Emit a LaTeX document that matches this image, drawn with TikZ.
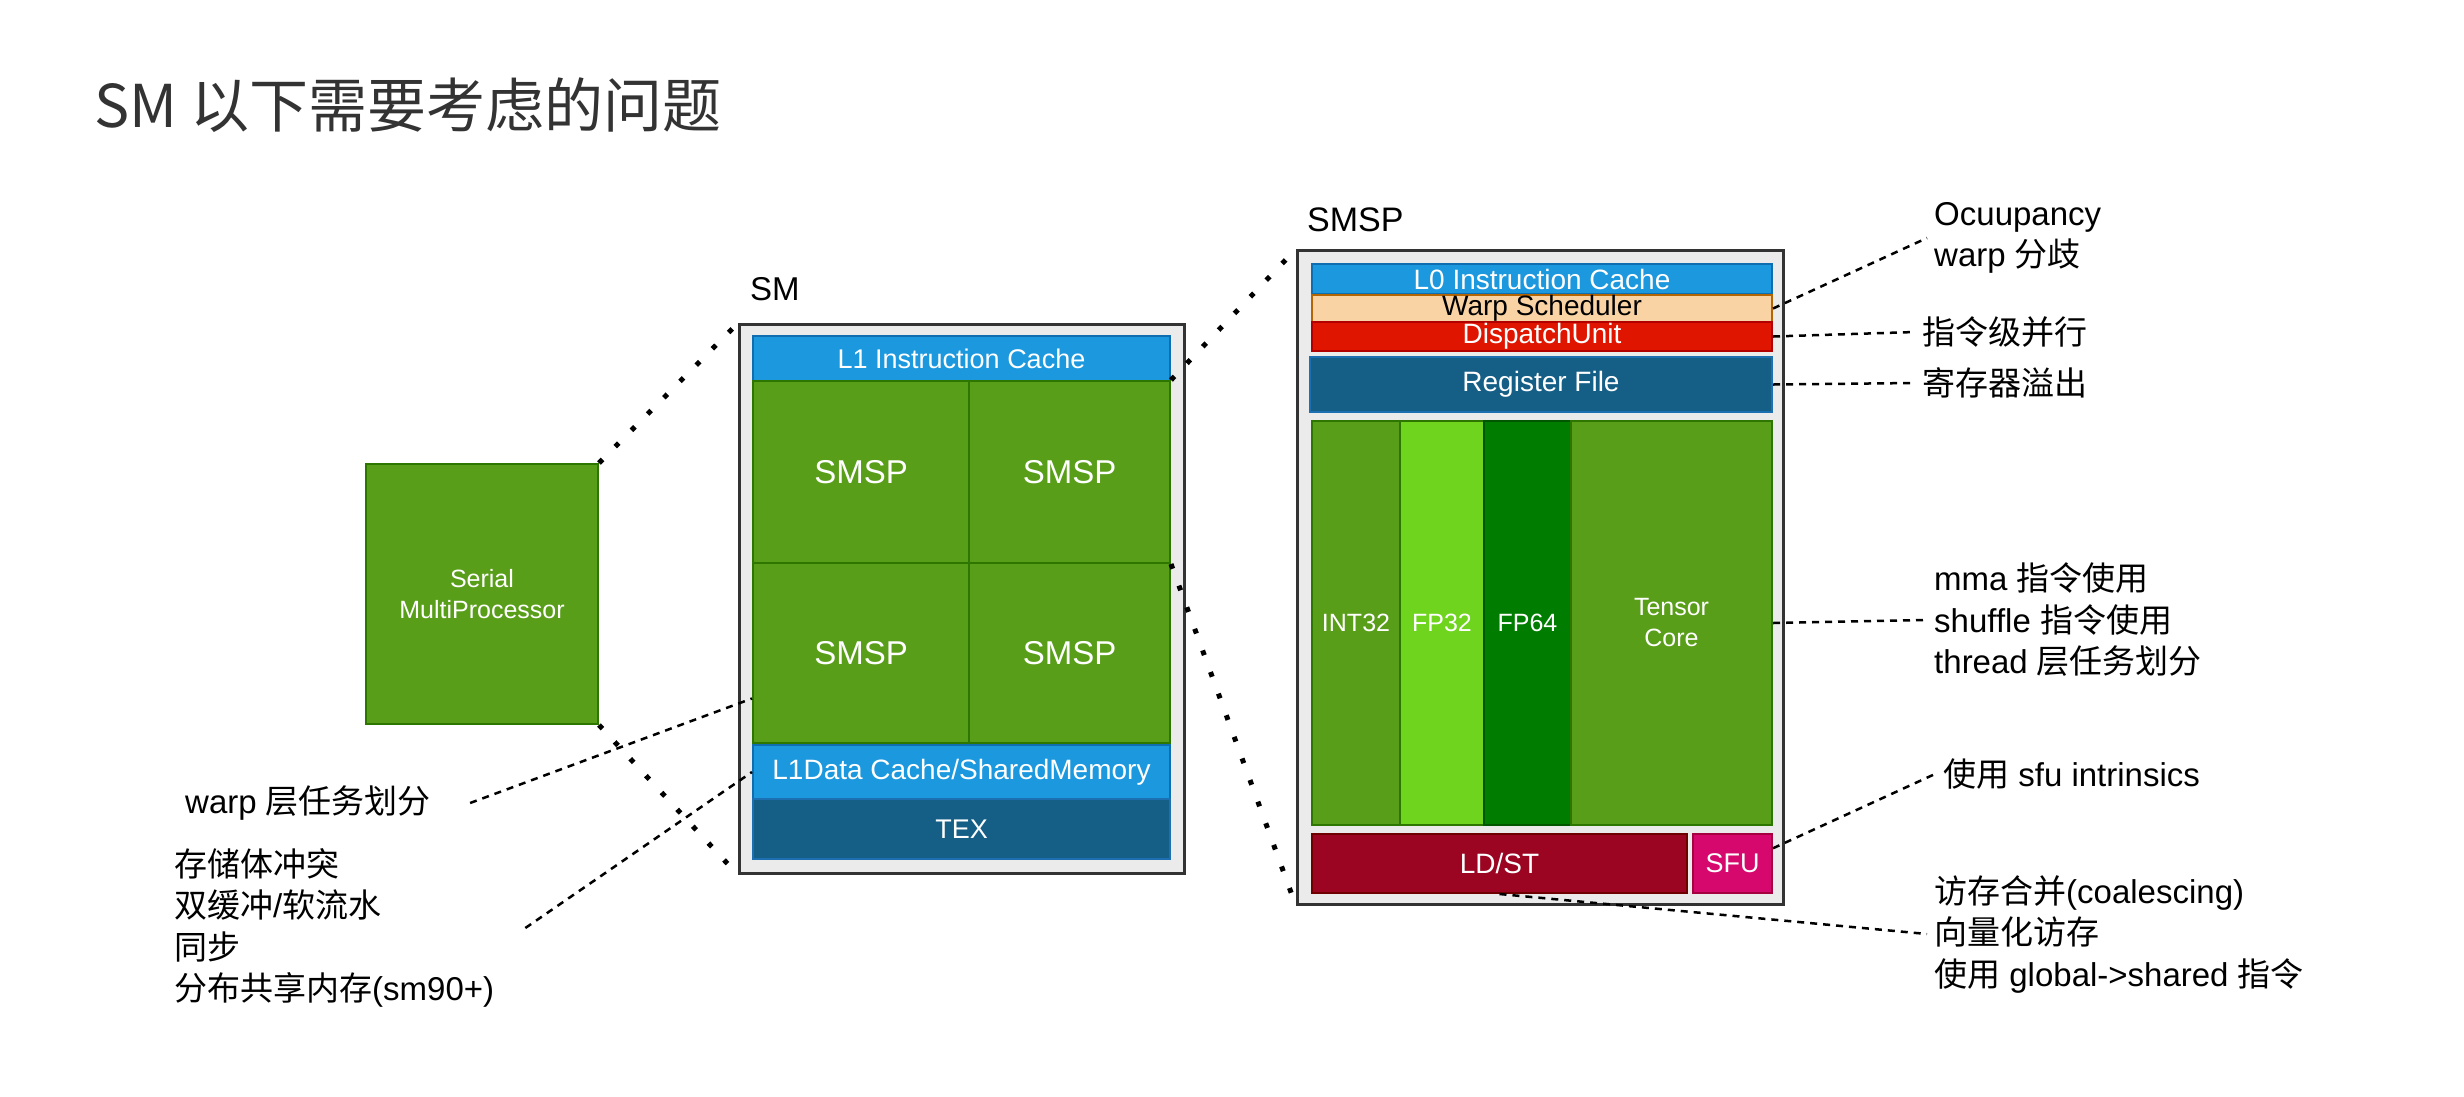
\documentclass[tikz,border=0pt]{standalone}
\usepackage{fontspec}
\setmainfont{Liberation Sans}
\newfontfamily\cjk{Noto Sans CJK SC}
\usetikzlibrary{calc}
\definecolor{smgray}{HTML}{EBEBEB}
\definecolor{framegray}{HTML}{333333}
\definecolor{titlegray}{HTML}{333333}
\definecolor{nvgreen}{HTML}{599E19}
\definecolor{nvgreenline}{HTML}{2D7600}
\definecolor{litegreen}{HTML}{6FD41D}
\definecolor{darkgreen}{HTML}{007D00}
\definecolor{darkgreenline}{HTML}{005700}
\definecolor{cacheblue}{HTML}{1B98DE}
\definecolor{cachebline}{HTML}{0E6EAF}
\definecolor{regblue}{HTML}{155E86}
\definecolor{regbline}{HTML}{1C6FB0}
\definecolor{peach}{HTML}{F9D3A3}
\definecolor{peachline}{HTML}{B46504}
\definecolor{dispred}{HTML}{E01500}
\definecolor{dispredline}{HTML}{B20000}
\definecolor{ldstred}{HTML}{9B0522}
\definecolor{ldstline}{HTML}{6F0000}
\definecolor{sfupink}{HTML}{D6086D}
\definecolor{sfuline}{HTML}{A50040}
\begin{document}
\begin{tikzpicture}[x=1pt,y=-1pt,
    unit/.style={draw, line width=2pt, inner sep=0pt, anchor=north west, text=white, align=center, font=\fontsize{28}{31}\selectfont},
    blueunit/.style={unit, fill=cacheblue, draw=cachebline},
    regunit/.style={unit, fill=regblue, draw=regbline},
    greenunit/.style={unit, fill=nvgreen, draw=nvgreenline},
    frame/.style={draw=framegray, fill=smgray, line width=3pt, inner sep=0pt, anchor=north west},
    note/.style={inner sep=0pt, anchor=west, align=left, font=\fontsize{33}{41.5}\selectfont},
    noteline/.style={line width=2.5pt, dash pattern=on 7pt off 6pt},
    zoomline/.style={line width=5pt, dash pattern=on 5pt off 18pt}]
  \fill[white] (0,0) rectangle (2464,1096);
  \useasboundingbox (0,0) rectangle (2464,1096);
  \node[anchor=west, inner sep=0pt, text=titlegray, font=\cjk\fontsize{59}{70}\selectfont] (title) at (94,105) {SM 以下需要考虑的问题};

  \node[greenunit, minimum width=232, minimum height=260, font=\fontsize{25}{31}\selectfont] (smp) at (365,463) {Serial\\MultiProcessor};

  \node[anchor=base west, inner sep=0pt, font=\fontsize{33}{40}\selectfont] (smlabel) at (750,300) {SM};
  \node[frame, minimum width=445, minimum height=549] (sm) at (738,323) {};
  \node[blueunit, minimum width=417, minimum height=45, font=\fontsize{27}{31}\selectfont] (l1i) at (752,335) {L1 Instruction Cache};
  \node[greenunit, minimum width=216, minimum height=182, font=\fontsize{33}{40}\selectfont] (tl) at (752,380) {SMSP};
  \node[greenunit, minimum width=201, minimum height=182, font=\fontsize{33}{40}\selectfont] (tr) at (968,380) {SMSP};
  \node[greenunit, minimum width=216, minimum height=180, font=\fontsize{33}{40}\selectfont] (bl) at (752,562) {SMSP};
  \node[greenunit, minimum width=201, minimum height=180, font=\fontsize{33}{40}\selectfont] (br) at (968,562) {SMSP};
  \node[blueunit, minimum width=417, minimum height=54] (l1d) at (752,744) {L1Data Cache/SharedMemory};
  \node[regunit, minimum width=417, minimum height=60, font=\fontsize{27}{31}\selectfont] (tex) at (752,798) {TEX};

  \node[anchor=base west, inner sep=0pt, font=\fontsize{34}{40}\selectfont] (smsplabel) at (1307,231) {SMSP};
  \node[frame, minimum width=486, minimum height=654] (smsp) at (1296,249) {};
  \node[blueunit, minimum width=460, minimum height=30] (l0) at (1311,263) {L0 Instruction Cache};
  \node[unit, fill=peach, draw=peachline, text=black, minimum width=460, minimum height=27] (ws) at (1311,294) {Warp Scheduler};
  \node[unit, fill=dispred, draw=dispredline, minimum width=460, minimum height=29] (du) at (1311,321) {DispatchUnit};
  \node[regunit, minimum width=462, minimum height=55] (rf) at (1309,356) {Register File};
  \node[greenunit, minimum width=88, minimum height=404, font=\fontsize{25}{31}\selectfont] (int32) at (1311,420) {INT32};
  \node[unit, fill=litegreen, draw=nvgreenline, minimum width=84, minimum height=404, font=\fontsize{25}{31}\selectfont] (fp32) at (1399,420) {FP32};
  \node[unit, fill=darkgreen, draw=darkgreenline, minimum width=87, minimum height=404, font=\fontsize{25}{31}\selectfont] (fp64) at (1483,420) {FP64};
  \node[greenunit, minimum width=201, minimum height=404, font=\fontsize{25}{31}\selectfont] (tc) at (1570,420) {Tensor\\Core};
  \node[unit, fill=ldstred, draw=ldstline, minimum width=375, minimum height=59] (ldst) at (1311,833) {LD/ST};
  \node[unit, fill=sfupink, draw=sfuline, minimum width=79, minimum height=59, font=\fontsize{27}{31}\selectfont] (sfu) at (1692,833) {SFU};

  \node[note] (occ) at (1934,238) {Ocuupancy\\warp {\cjk 分歧}};
  \node[note] (ilp) at (1922,332) {\cjk 指令级并行};
  \node[note] (spill) at (1922,383) {\cjk 寄存器溢出};
  \node[note] (mma) at (1934,620) {mma {\cjk 指令使用}\\shuffle {\cjk 指令使用}\\thread {\cjk 层任务划分}};
  \node[note] (sfunote) at (1943,774) {{\cjk 使用} sfu intrinsics};
  \node[note] (gmem) at (1934,934) {{\cjk 访存合并}(coalescing)\\{\cjk 向量化访存}\\{\cjk 使用} global->shared {\cjk 指令}};
  \node[note] (warpnote) at (185,803) {warp {\cjk 层任务划分}};
  \node[note] (smem) at (174,928) {{\cjk 存储体冲突}\\{\cjk 双缓冲}/{\cjk 软流水}\\{\cjk 同步}\\{\cjk 分布共享内存}(sm90+)};

  \draw[zoomline] (smp.north east) -- (sm.north west);
  \draw[zoomline] (smp.south east) -- (sm.south west);
  \draw[zoomline] (tr.north east) -- (smsp.north west);
  \draw[zoomline] (tr.south east) -- (smsp.south west);

  \draw[noteline] (ws.east) -- ([xshift=-7]occ.west);
  \draw[noteline] (du.east) -- ([xshift=-7]ilp.west);
  \draw[noteline] (rf.east) -- ([xshift=-7]spill.west);
  \draw[noteline] (tc.east) -- ([xshift=-7]mma.west);
  \draw[noteline] ($(sfu.north east)!.25!(sfu.south east)$) -- ([xshift=-8]sfunote.west);
  \draw[noteline] (ldst.south) -- ([xshift=-7]gmem.west);
  \draw[noteline] ([xshift=39]warpnote.east) -- ($(bl.north west)!.75!(bl.south west)$);
  \draw[noteline] ([xshift=31]smem.east) -- (l1d.west);
\end{tikzpicture}
\end{document}
